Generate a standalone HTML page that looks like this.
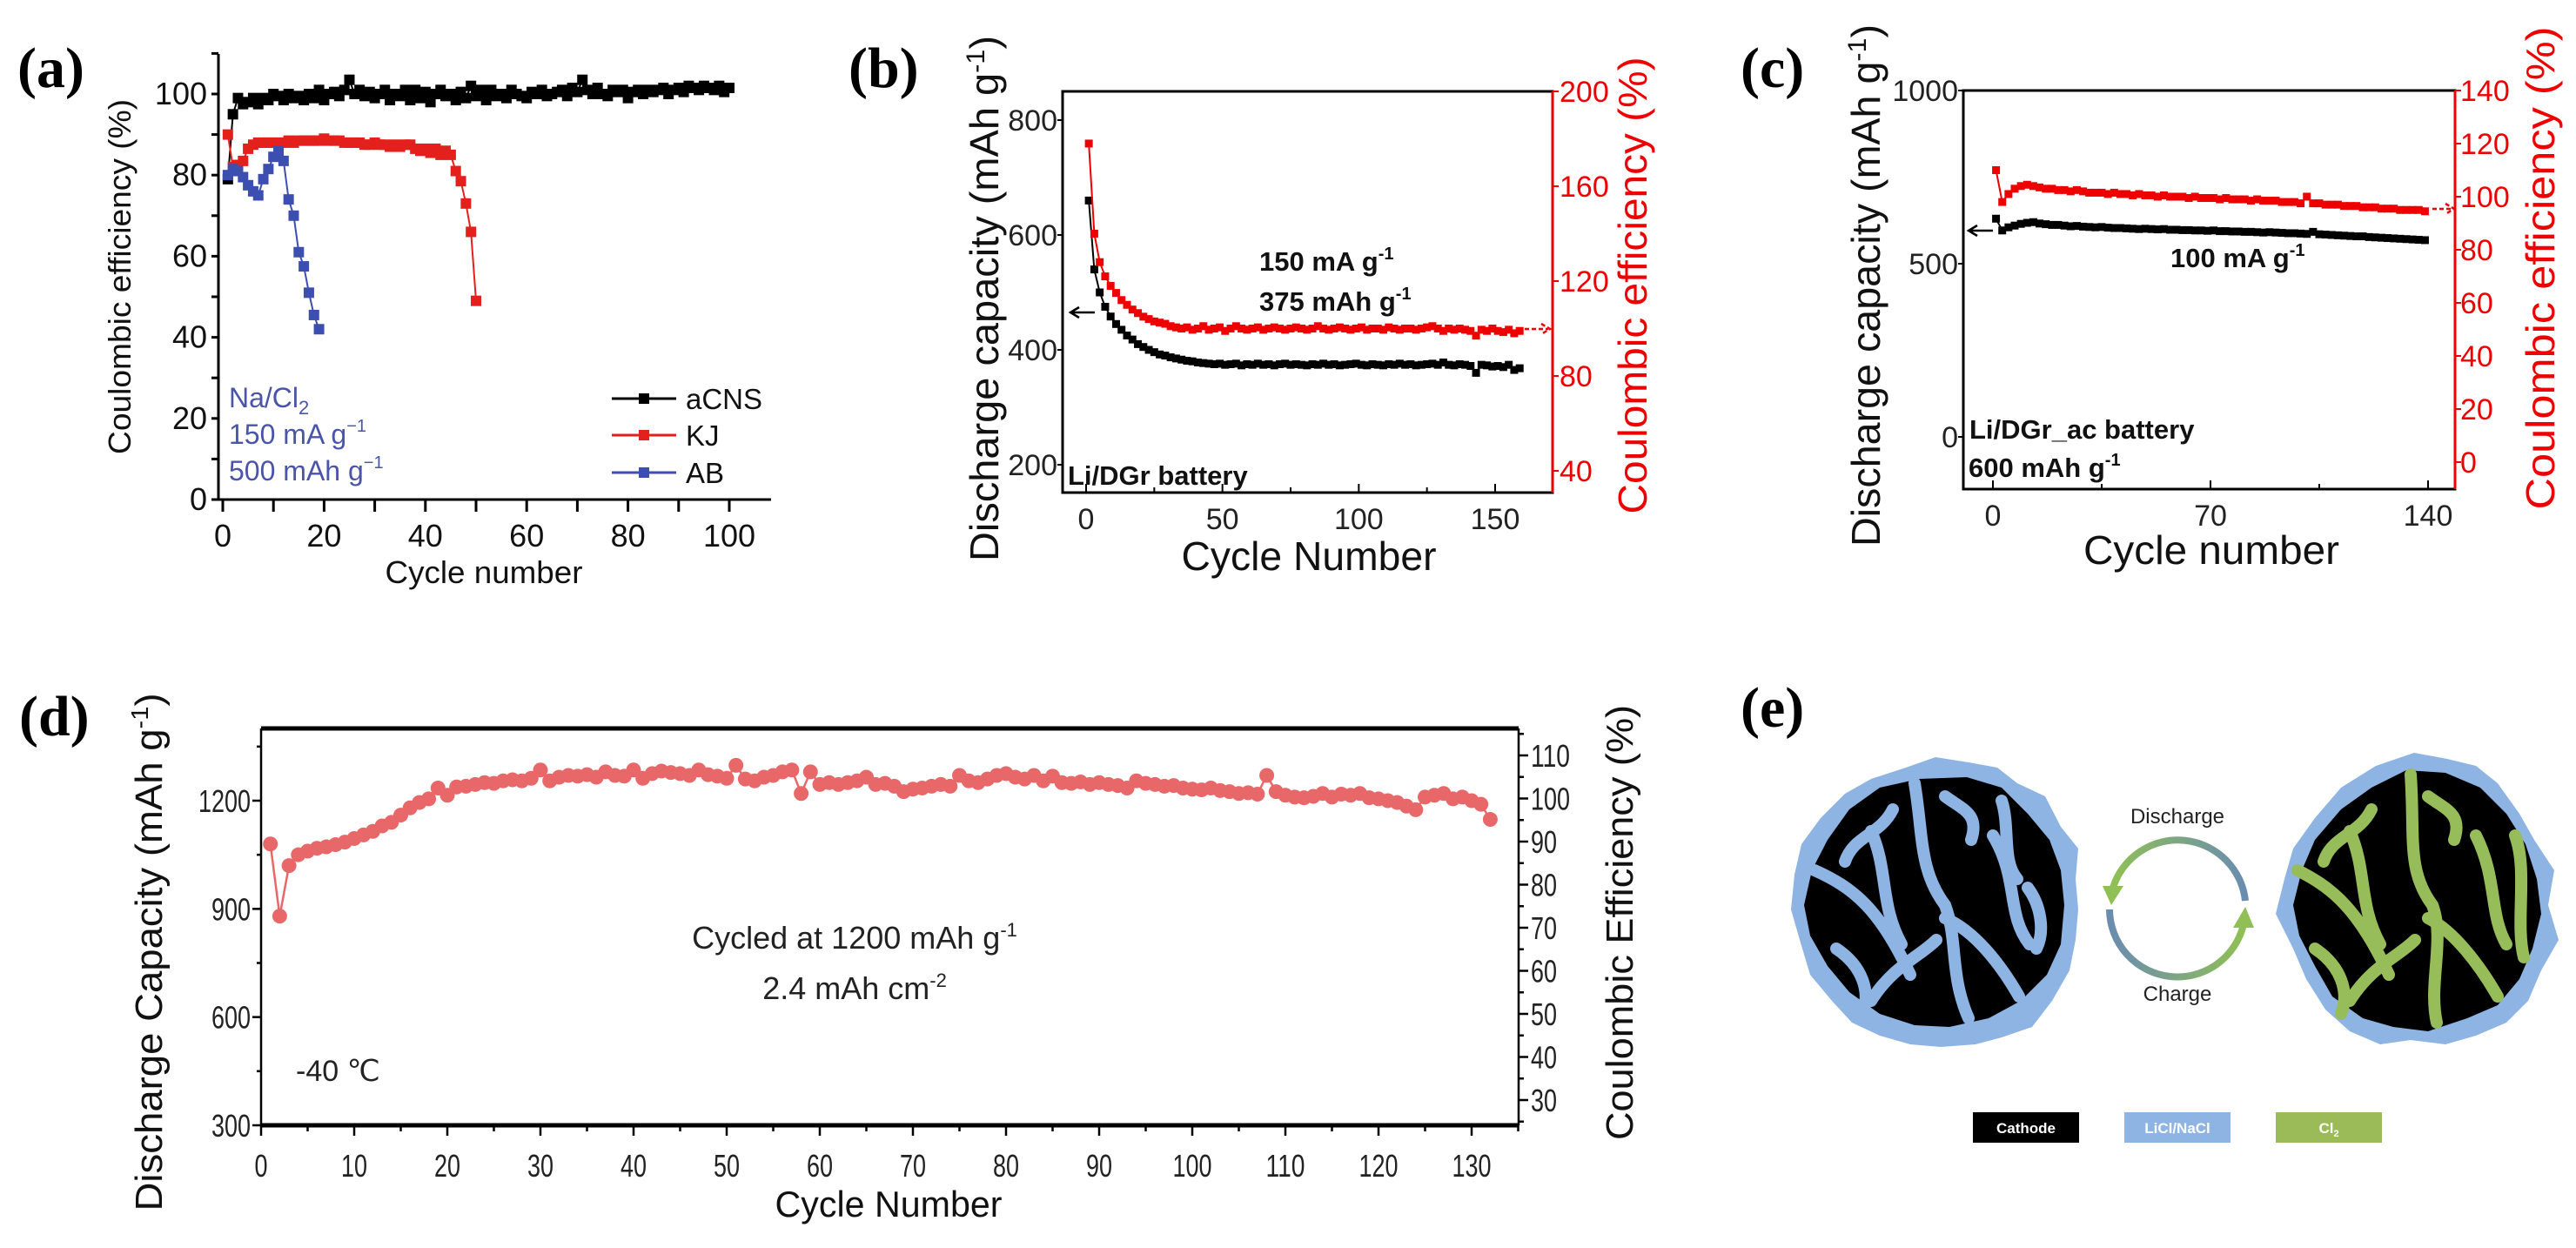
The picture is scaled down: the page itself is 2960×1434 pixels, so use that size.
<!DOCTYPE html>
<html><head><meta charset="utf-8"><title>Battery cycling figure</title>
<style>
html,body{margin:0;padding:0;background:#fff;}
svg{display:block;}
text{font-family:"Liberation Sans",Arial,sans-serif;}
.pl{font-family:"Liberation Serif",serif;font-weight:bold;font-size:66px;}
</style></head>
<body>
<svg id="fig" width="2960" height="1434" viewBox="0 0 2960 1434" xmlns="http://www.w3.org/2000/svg">
<defs>
<linearGradient id="gTop" x1="0" y1="0" x2="1" y2="0"><stop offset="0" stop-color="#8fbf55"/><stop offset="1" stop-color="#6a8cb0"/></linearGradient>
<linearGradient id="gBot" x1="0" y1="0" x2="1" y2="0"><stop offset="0" stop-color="#6a8cb0"/><stop offset="1" stop-color="#8fbf55"/></linearGradient>
</defs>

<text class="pl" x="20" y="100">(a)</text>
<text class="pl" x="975" y="100">(b)</text>
<text class="pl" x="2000" y="100">(c)</text>
<text class="pl" x="22" y="845">(d)</text>
<text class="pl" x="2000" y="835">(e)</text>

<g id="pa"></g>
<g id="pb"></g>
<g id="pc"></g>
<g id="pd"></g>

<g id="pe">
  <g>
    <polygon fill="#8db4e2" points="2224,870 2262,876 2295,882 2318,900 2350,915 2368,950 2388,975 2385,1010 2388,1045 2385,1080 2378,1115 2358,1150 2335,1180 2300,1192 2270,1200 2230,1203 2195,1200 2160,1190 2128,1175 2105,1150 2080,1120 2068,1080 2058,1045 2062,1005 2070,970 2092,940 2120,912 2150,895 2190,882"/>
    <polygon fill="#000" points="2205,895 2260,893 2300,905 2330,935 2355,965 2368,1000 2372,1040 2368,1085 2352,1120 2322,1150 2285,1170 2240,1180 2200,1178 2160,1165 2125,1140 2100,1110 2080,1075 2073,1040 2082,1000 2100,965 2125,930 2160,905"/>
    <path d="M2150,955 C2170,1000 2160,1040 2185,1085 M2200,900 C2210,960 2205,1000 2235,1040 C2250,1080 2240,1120 2262,1170 M2235,915 C2255,930 2275,935 2265,965 M2290,960 C2320,1010 2305,1050 2332,1085 M2085,1000 C2130,1020 2160,1045 2195,1120 M2235,1055 C2270,1070 2300,1110 2320,1145 M2150,1150 C2175,1110 2205,1100 2225,1080 M2300,920 C2310,950 2300,990 2318,1010 M2330,1020 C2345,1040 2350,1070 2340,1090 M2175,930 C2160,960 2130,960 2120,990 M2110,1090 C2140,1110 2150,1140 2140,1165" fill="none" stroke="#8db4e2" stroke-width="14" stroke-linecap="round"/>
  </g>
  <g>
    <polygon fill="#8db4e2" points="2774,865 2812,872 2845,880 2870,900 2895,935 2912,965 2935,1000 2928,1040 2940,1080 2920,1115 2905,1150 2880,1175 2845,1190 2810,1200 2770,1195 2735,1200 2700,1185 2672,1160 2650,1125 2635,1090 2615,1050 2625,1010 2635,975 2660,940 2690,905 2730,880"/>
    <polygon fill="#000" points="2765,885 2810,888 2850,905 2880,935 2902,970 2915,1010 2920,1050 2910,1090 2895,1125 2870,1155 2835,1170 2790,1185 2750,1180 2715,1170 2680,1145 2660,1110 2642,1075 2635,1040 2645,1000 2660,965 2690,930 2725,905"/>
    <path d="M2700,955 C2720,1000 2710,1040 2735,1085 M2770,890 C2775,960 2765,1000 2795,1040 C2810,1080 2790,1130 2800,1175 M2790,915 C2810,930 2830,935 2820,965 M2845,960 C2870,1010 2860,1050 2880,1085 M2640,1000 C2680,1020 2710,1045 2745,1120 M2790,1055 C2820,1070 2850,1110 2870,1145 M2700,1150 C2725,1110 2755,1100 2775,1080 M2890,960 C2905,1000 2890,1060 2900,1100 M2725,930 C2710,960 2680,960 2670,990 M2660,1090 C2690,1110 2700,1140 2690,1165" fill="none" stroke="#97bd5a" stroke-width="14" stroke-linecap="round"/>
  </g>
  <path d="M2580,1035 A78,78 0 0 0 2428,1020" fill="none" stroke="url(#gTop)" stroke-width="8"/>
  <polygon points="2416,1018 2440,1018 2426,1040" fill="#8fbf55"/>
  <path d="M2424,1045 A78,78 0 0 0 2578,1062" fill="none" stroke="url(#gBot)" stroke-width="8"/>
  <polygon points="2566,1066 2590,1066 2580,1042" fill="#8fbf55"/>
  <text x="2502" y="946" font-size="24" text-anchor="middle" fill="#222">Discharge</text>
  <text x="2502" y="1150" font-size="24" text-anchor="middle" fill="#222">Charge</text>
  <rect x="2267" y="1278" width="122" height="35" fill="#000"/>
  <text x="2328" y="1302" font-size="17" font-weight="bold" text-anchor="middle" fill="#fff">Cathode</text>
  <rect x="2441" y="1278" width="122" height="35" fill="#8db4e2"/>
  <text x="2502" y="1302" font-size="17" font-weight="bold" text-anchor="middle" fill="#fff">LiCl/NaCl</text>
  <rect x="2615" y="1278" width="122" height="35" fill="#9bbb59"/>
  <text x="2676" y="1302" font-size="17" font-weight="bold" text-anchor="middle" fill="#fff">Cl<tspan font-size="11" dy="4">2</tspan></text>
</g>
</svg>

<script>
// ---------- Panel (a) data ----------
const aTicksX = [0,20,40,60,80,100];
const aTicksY = [0,20,40,60,80,100];
const aCNS = [79,95,99,97.5,98,99,97.5,99,98.5,100,99.5,98.5,100,99,99.5,98.5,100,99,101,98.5,100,100.5,99.5,101,103.5,100,101,99.5,100.5,99,100,101,98.5,100,99.5,101,98.5,101,99,100.5,98,100,101,99.5,100,98.5,100.5,99,102,99.5,101,98.5,101,99.5,100,99,101,100,99.5,99,100.5,100,101,99.5,100,100.5,101,99.5,101.5,100.5,103.5,101,100,101.5,100,99.5,101,100.5,101,99,100.5,101,100,101,100.5,101,101.5,100,101,101.5,100.5,102,101.5,101,102,101.5,101,102,100.5,101.5];
const aKJ = [90,82,82.5,83.5,86.5,87.5,88,88,88,88,88,88,88.5,88,88.5,88.5,88.5,88.5,88.5,89,88.5,88.5,88.5,88,88,88,88,87.5,87.5,88,87.5,87.5,87,87.5,87,87.5,87.5,86.5,86,86.5,85.5,86.5,85,86,85,81,78.5,73,66,49];
const aAB = [80,81.5,81,79.5,77.5,76,75,79,81.5,84.5,86,83.5,74,70,61,57.5,51,45.5,42];

// ---------- Panel (b) data ----------
const bTicksX = [0,50,100,150];
const bTicksL = [200,400,600,800];
const bTicksR = [40,80,120,160,200];
const bCap = [660,540,500,475,458,445,435,425,418,410,405,400,396,392,390,387,385,383,381,380,378,377,376,375,376,374,375,376,373,375,374,376,374,375,373,375,376,374,375,374,373,375,374,376,374,375,373,374,375,376,374,373,375,374,373,375,374,376,374,375,373,374,375,376,374,378,374,373,375,374,372,360,374,373,371,372,370,374,365,368];
const bCE = [178,140,128,122,118,115,112,110,108,106.5,105,104,103,102.5,102,101,100.5,100,100.5,99.5,100,101,99.5,100,100.5,99,100,101,100,99.5,100,100.5,99.5,100,100.5,100,99.5,100,100.5,100,99.5,100,101,100,99.5,100,100.5,100,99.5,100,100.5,99.5,100,100,99.5,100.5,100,99.5,100,100,99.5,100,100.5,101,100,99,100,99.5,100,99.5,99,97,99.5,99,100,99,98.5,99.5,98,99];

// ---------- Panel (c) data ----------
const cTicksX = [0,70,140];
const cTicksL = [0,500,1000];
const cTicksR = [0,20,40,60,80,100,120,140];
const cCap = [630,596,605,610,615,618,620,616,614,612,612,610,608,609,607,606,605,606,604,603,603,602,601,600,601,600,599,600,598,598,597,597,596,596,595,596,594,594,593,593,592,592,591,590,591,590,589,588,588,587,586,592,585,584,583,582,581,580,579,579,577,576,575,574,573,572,571,570,569,568];
const cCE = [110,98,101,103,104,104.5,104,103.5,103,103,102.5,102.5,102,102.5,102,101.5,101.5,101.5,101,101.5,101,101,100.5,101,100.5,100.5,100,100.5,100,100,100,99.5,100,99.5,99.5,99.5,99,99.5,99,99,99,98.5,99,98.5,98.5,98.5,98,98,98,97.5,100,97.5,97.5,97,97,97,96.5,96.5,96.5,96,96,96,95.5,95.5,95.5,95,95,95,95,94.5];

// ---------- Panel (d) data ----------
const dTicksX = [0,10,20,30,40,50,60,70,80,90,100,110,120,130];
const dTicksL = [300,600,900,1200];
const dTicksR = [30,40,50,60,70,80,90,100,110];
const dCap = [1080,880,1020,1050,1060,1068,1072,1078,1085,1095,1105,1115,1130,1140,1160,1180,1195,1205,1235,1215,1238,1240,1245,1250,1248,1255,1258,1255,1262,1285,1255,1265,1270,1268,1272,1265,1280,1270,1268,1285,1262,1275,1282,1278,1275,1270,1285,1272,1268,1262,1298,1260,1255,1265,1270,1280,1285,1220,1280,1245,1250,1245,1250,1255,1265,1245,1248,1240,1225,1232,1235,1240,1245,1240,1270,1255,1250,1260,1270,1275,1265,1260,1270,1255,1268,1250,1248,1252,1245,1250,1245,1242,1235,1255,1248,1245,1240,1242,1235,1232,1230,1235,1228,1225,1220,1222,1218,1270,1225,1215,1210,1208,1212,1220,1210,1218,1215,1220,1208,1205,1200,1195,1185,1175,1210,1215,1220,1205,1210,1200,1190,1148];

const NS = "http://www.w3.org/2000/svg";
function mk(parent, tag, attrs, txt){
  const e = document.createElementNS(NS, tag);
  for (const k in attrs) e.setAttribute(k, attrs[k]);
  if (txt !== undefined) e.textContent = txt;
  parent.appendChild(e);
  return e;
}
function lin(d0,d1,r0,r1){ return v => r0 + (v-d0)*(r1-r0)/(d1-d0); }

// ================= Panel (a) =================
(function(){
  const g = document.getElementById('pa');
  const X = lin(0,100,256,838), Y = lin(0,100,574,108);
  let el;
  el = mk(g,'line',{x1:251,y1:574,x2:886,y2:574,stroke:'#000','stroke-width':3});
  
  
  el = mk(g,'line',{x1:251,y1:574,x2:251,y2:62,stroke:'#000','stroke-width':3});
  
  
  for (let v=0; v<=105; v+=10){
    el = mk(g,'line',{x1:X(v),y1:574,x2:X(v),y2:588,stroke:'#000','stroke-width':3});
    
    
  }
  for (let v=0; v<=110; v+=10){
    el = mk(g,'line',{x1:243,y1:Y(v),x2:251,y2:Y(v),stroke:'#000','stroke-width':3});
    
    
  }
  aTicksX.forEach(v=>{
    el = mk(g,'text',{x:X(v),y:628,'font-size':36,'text-anchor':'middle',fill:'#111'},String(v));
    
    
  });
  aTicksY.forEach(v=>{
    el = mk(g,'text',{x:238,y:Y(v)+12,'font-size':36,'text-anchor':'end',fill:'#111'},String(v));
    
    
  });
  el = mk(g,'text',{x:556,y:670,'font-size':36,'text-anchor':'middle',fill:'#111',textLength:227,lengthAdjust:'spacingAndGlyphs'},'Cycle number');
  
  
  el = mk(g,'text',{x:0,y:0,'font-size':36,'text-anchor':'middle',fill:'#111',transform:'translate(150,318) rotate(-90)',textLength:408,lengthAdjust:'spacingAndGlyphs'},'Coulombic efficiency (%)');
  
  

  function series(arr, color, name){
    const pts = arr.map((v,i)=>X(i+1)+','+Y(v)).join(' ');
    let p = mk(g,'polyline',{points:pts,fill:'none',stroke:color,'stroke-width':2});
    
    
    arr.forEach((v,i)=>{
      const r = mk(g,'rect',{x:X(i+1)-6,y:Y(v)-6,width:12,height:12,fill:color});
      
      
    });
  }
  series(aCNS,'#000','acns');
  series(aKJ,'#e3201c','kj');
  series(aAB,'#3c4fb0','ab');

  const leg = [['aCNS','#000',458],['KJ','#e3201c',500],['AB','#3c4fb0',543]];
  leg.forEach(l=>{
    let ln = mk(g,'line',{x1:703,y1:l[2],x2:777,y2:l[2],stroke:l[1],'stroke-width':3});
    
    
    let r = mk(g,'rect',{x:734,y:l[2]-6,width:12,height:12,fill:l[1]});
    
    
    let t = mk(g,'text',{x:788,y:l[2]+12,'font-size':33,fill:'#111'},l[0]);
    
    
  });
  el = mk(g,'text',{x:263,y:468,'font-size':32,fill:'#4a55a8'});
  el.innerHTML = 'Na/Cl<tspan font-size="22" dy="8">2</tspan>';
  
  
  el = mk(g,'text',{x:263,y:510,'font-size':32,fill:'#4a55a8'});
  el.innerHTML = '150 mA g<tspan font-size="20" dy="-14">−1</tspan>';
  
  
  el = mk(g,'text',{x:263,y:552,'font-size':32,fill:'#4a55a8'});
  el.innerHTML = '500 mAh g<tspan font-size="20" dy="-14">−1</tspan>';
  
  
})();

// ================= Panel (b) =================
(function(){
  const g = document.getElementById('pb');
  const L=1221,R=1784,T=105,B=566;
  const X = lin(0,150,1248,1718), YL = lin(200,800,534,138), YR = lin(40,200,541,105);
  let el;
  el = mk(g,'rect',{x:L,y:T,width:R-L,height:B-T,fill:'none',stroke:'#000','stroke-width':3});
  
  
  el = mk(g,'line',{x1:R,y1:T,x2:R,y2:B,stroke:'#e00','stroke-width':3});
  
  
  for (let v=0; v<=150; v+=25){
    el = mk(g,'line',{x1:X(v),y1:B,x2:X(v),y2:B-(v%50?6:10),stroke:'#000','stroke-width':2});
    
    
  }
  bTicksX.forEach(v=>{
    el = mk(g,'text',{x:X(v),y:608,'font-size':34,'text-anchor':'middle',fill:'#222'},String(v));
    
    
  });
  bTicksL.forEach(v=>{
    el = mk(g,'line',{x1:L-6,y1:YL(v),x2:L,y2:YL(v),stroke:'#000','stroke-width':2});
    
    
    el = mk(g,'text',{x:L-6,y:YL(v)+12,'font-size':34,'text-anchor':'end',fill:'#222'},String(v));
    
    
  });
  bTicksR.forEach(v=>{
    el = mk(g,'line',{x1:R,y1:YR(v),x2:R+7,y2:YR(v),stroke:'#e00','stroke-width':2});
    
    
    el = mk(g,'text',{x:R+8,y:YR(v)+12,'font-size':34,fill:'#e00'},String(v));
    
    
  });
  el = mk(g,'text',{x:1504,y:655,'font-size':46,'text-anchor':'middle',fill:'#111',textLength:293,lengthAdjust:'spacingAndGlyphs'},'Cycle Number');
  
  
  el = mk(g,'text',{x:0,y:0,'font-size':46,'text-anchor':'middle',fill:'#111',transform:'translate(1147,343) rotate(-90)',textLength:604,lengthAdjust:'spacingAndGlyphs'});
  el.innerHTML = 'Discharge capacity (mAh g<tspan font-size="30" dy="-16">-1</tspan><tspan dy="16">)</tspan>';
  
  
  el = mk(g,'text',{x:0,y:0,'font-size':46,'text-anchor':'middle',fill:'#e00',transform:'translate(1892,328) rotate(-90)',textLength:525,lengthAdjust:'spacingAndGlyphs'},'Coulombic efficiency (%)');
  
  

  function series(arr, Y, color, name){
    const pts = arr.map((v,i)=>X(1+2*i)+','+Y(v)).join(' ');
    let p = mk(g,'polyline',{points:pts,fill:'none',stroke:color,'stroke-width':2});
    
    
    arr.forEach((v,i)=>{
      const r = mk(g,'rect',{x:X(1+2*i)-4.5,y:Y(v)-4.5,width:9,height:9,fill:color});
      
      
    });
  }
  series(bCap, YL, '#000', 'b-capacity');
  series(bCE, YR, '#e00', 'b-efficiency');
  el = mk(g,'path',{d:'M1258,359 H1232 M1240,353 L1230,359 L1240,365',fill:'none',stroke:'#000','stroke-width':2.5});
  
  
  el = mk(g,'path',{d:'M1752,378 H1779 M1771,372 L1781,378 L1771,384',fill:'none',stroke:'#e00','stroke-width':2.5,'stroke-dasharray':'5 3'});
  
  
  el = mk(g,'text',{x:1447,y:311,'font-size':31,'font-weight':'bold',fill:'#111'});
  el.innerHTML = '150 mA g<tspan font-size="20" dy="-13">-1</tspan>';
  
  
  el = mk(g,'text',{x:1447,y:357,'font-size':31,'font-weight':'bold',fill:'#111'});
  el.innerHTML = '375 mAh g<tspan font-size="20" dy="-13">-1</tspan>';
  
  
  el = mk(g,'text',{x:1227,y:557,'font-size':31,'font-weight':'bold',fill:'#111'},'Li/DGr battery');
  
  
})();

// ================= Panel (c) =================
(function(){
  const g = document.getElementById('pc');
  const L=2256,R=2821,T=104,B=562;
  const X = lin(0,140,2290,2790), YL = lin(0,1000,502,104), YR = lin(0,140,531,104);
  let el;
  el = mk(g,'rect',{x:L,y:T,width:R-L,height:B-T,fill:'none',stroke:'#000','stroke-width':3});
  
  
  el = mk(g,'line',{x1:R,y1:T,x2:R,y2:B,stroke:'#e00','stroke-width':3});
  
  
  for (let v=0; v<=140; v+=35){
    el = mk(g,'line',{x1:X(v),y1:B,x2:X(v),y2:B-(v%70?6:10),stroke:'#000','stroke-width':2});
    
    
  }
  cTicksX.forEach(v=>{
    el = mk(g,'text',{x:X(v),y:604,'font-size':34,'text-anchor':'middle',fill:'#222'},String(v));
    
    
  });
  cTicksL.forEach(v=>{
    el = mk(g,'line',{x1:L-6,y1:YL(v),x2:L,y2:YL(v),stroke:'#000','stroke-width':2});
    
    
    el = mk(g,'text',{x:L-6,y:YL(v)+12,'font-size':34,'text-anchor':'end',fill:'#222'},String(v));
    
    
  });
  cTicksR.forEach(v=>{
    el = mk(g,'line',{x1:R,y1:YR(v),x2:R+7,y2:YR(v),stroke:'#e00','stroke-width':2});
    
    
    el = mk(g,'text',{x:R+6,y:YR(v)+12,'font-size':34,fill:'#e00'},String(v));
    
    
  });
  el = mk(g,'text',{x:2541,y:648,'font-size':46,'text-anchor':'middle',fill:'#111',textLength:294,lengthAdjust:'spacingAndGlyphs'},'Cycle number');
  
  
  el = mk(g,'text',{x:0,y:0,'font-size':46,'text-anchor':'middle',fill:'#111',transform:'translate(2160,328) rotate(-90)',textLength:600,lengthAdjust:'spacingAndGlyphs'});
  el.innerHTML = 'Discharge capacity (mAh g<tspan font-size="30" dy="-16">-1</tspan><tspan dy="16">)</tspan>';
  
  
  el = mk(g,'text',{x:0,y:0,'font-size':46,'text-anchor':'middle',fill:'#e00',transform:'translate(2935,308) rotate(-90)',textLength:555,lengthAdjust:'spacingAndGlyphs'},'Coulombic efficiency (%)');
  
  

  function series(arr, Y, color, name){
    const pts = arr.map((v,i)=>X(1+2*i)+','+Y(v)).join(' ');
    let p = mk(g,'polyline',{points:pts,fill:'none',stroke:color,'stroke-width':2});
    
    
    arr.forEach((v,i)=>{
      const r = mk(g,'rect',{x:X(1+2*i)-4.5,y:Y(v)-4.5,width:9,height:9,fill:color});
      
      
    });
  }
  series(cCap, YL, '#000', 'c-capacity');
  series(cCE, YR, '#e00', 'c-efficiency');
  el = mk(g,'path',{d:'M2290,265 H2264 M2272,259 L2262,265 L2272,271',fill:'none',stroke:'#000','stroke-width':2.5});
  
  
  el = mk(g,'path',{d:'M2795,240 H2818 M2810,234 L2820,240 L2810,246',fill:'none',stroke:'#e00','stroke-width':2.5,'stroke-dasharray':'5 3'});
  
  
  el = mk(g,'text',{x:2494,y:307,'font-size':31,'font-weight':'bold',fill:'#111'});
  el.innerHTML = '100 mA g<tspan font-size="20" dy="-13">-1</tspan>';
  
  
  el = mk(g,'text',{x:2263,y:504,'font-size':31,'font-weight':'bold',fill:'#111'},'Li/DGr_ac battery');
  
  
  el = mk(g,'text',{x:2262,y:548,'font-size':31,'font-weight':'bold',fill:'#111'});
  el.innerHTML = '600 mAh g<tspan font-size="20" dy="-13">-1</tspan>';
  
  
})();

// ================= Panel (d) =================
(function(){
  const g = document.getElementById('pd');
  const L=300,R=1745,T=837,B=1293;
  const X = lin(0,130,300,1691), YL = lin(300,1200,1293,920), YR = lin(30,110,1264,868);
  let el;
  el = mk(g,'line',{x1:L,y1:T,x2:R,y2:T,stroke:'#000','stroke-width':5});
  
  
  el = mk(g,'line',{x1:L,y1:B,x2:R,y2:B,stroke:'#000','stroke-width':5});
  
  
  el = mk(g,'line',{x1:L,y1:T,x2:L,y2:B,stroke:'#000','stroke-width':2.5});
  
  
  el = mk(g,'line',{x1:R,y1:T,x2:R,y2:B,stroke:'#000','stroke-width':2.5});
  
  
  for (let v=0; v<=135; v+=5){
    el = mk(g,'line',{x1:X(v),y1:B,x2:X(v),y2:B+(v%10?7:12),stroke:'#000','stroke-width':2.5});
    
    
  }
  dTicksX.forEach(v=>{
    el = mk(g,'text',{x:X(v),y:1352,'font-size':36,'text-anchor':'middle',fill:'#222',textLength:String(v).length*15,lengthAdjust:'spacingAndGlyphs'},String(v));
    
    
  });
  for (let v=300; v<=1350; v+=150){
    el = mk(g,'line',{x1:L-(v%300?5:10),y1:YL(v),x2:L,y2:YL(v),stroke:'#000','stroke-width':2.5});
    
    
  }
  dTicksL.forEach(v=>{
    el = mk(g,'text',{x:L-12,y:YL(v)+13,'font-size':36,'text-anchor':'end',fill:'#222',textLength:String(v).length*15,lengthAdjust:'spacingAndGlyphs'},String(v));
    
    
  });
  for (let v=25; v<=115; v+=5){
    el = mk(g,'line',{x1:R,y1:YR(v),x2:R+(v%10?6:11),y2:YR(v),stroke:'#000','stroke-width':2.5});
    
    
  }
  dTicksR.forEach(v=>{
    el = mk(g,'text',{x:R+14,y:YR(v)+13,'font-size':36,fill:'#222',textLength:String(v).length*15,lengthAdjust:'spacingAndGlyphs'},String(v));
    
    
  });
  el = mk(g,'text',{x:1021,y:1398,'font-size':42,'text-anchor':'middle',fill:'#111',textLength:261,lengthAdjust:'spacingAndGlyphs'},'Cycle Number');
  
  
  el = mk(g,'text',{x:0,y:0,'font-size':44,'text-anchor':'middle',fill:'#111',transform:'translate(186,1094) rotate(-90)',textLength:595,lengthAdjust:'spacingAndGlyphs'});
  el.innerHTML = 'Discharge Capacity (mAh g<tspan font-size="28" dy="-16">-1</tspan><tspan dy="16">)</tspan>';
  
  
  el = mk(g,'text',{x:0,y:0,'font-size':44,'text-anchor':'middle',fill:'#111',transform:'translate(1876,1060) rotate(-90)',textLength:500,lengthAdjust:'spacingAndGlyphs'},'Coulombic Efficiency (%)');
  
  

  const pts = dCap.map((v,i)=>X(i+1)+','+YL(v)).join(' ');
  el = mk(g,'polyline',{points:pts,fill:'none',stroke:'#e8686a','stroke-width':2.5});
  
  
  dCap.forEach((v,i)=>{
    const c = mk(g,'circle',{cx:X(i+1),cy:YL(v),r:8.5,fill:'#e8686a'});
    
    
  });
  el = mk(g,'text',{x:982,y:1090,'font-size':36,'text-anchor':'middle',fill:'#222'});
  el.innerHTML = 'Cycled at 1200 mAh g<tspan font-size="22" dy="-14">-1</tspan>';
  
  
  el = mk(g,'text',{x:982,y:1148,'font-size':36,'text-anchor':'middle',fill:'#222'});
  el.innerHTML = '2.4 mAh cm<tspan font-size="22" dy="-14">-2</tspan>';
  
  
  el = mk(g,'text',{x:340,y:1242,'font-size':34,fill:'#222'},'-40 ℃');
  
  
})();
</script>
</body></html>
